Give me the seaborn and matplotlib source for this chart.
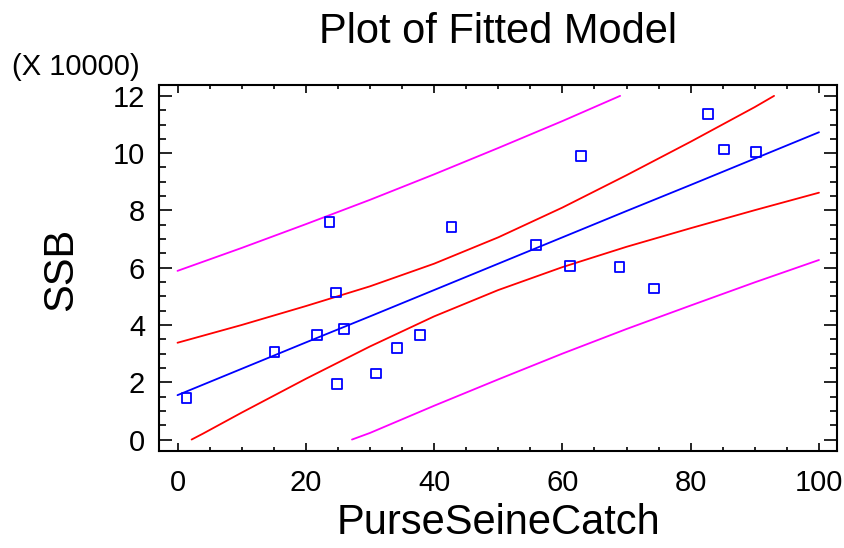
import matplotlib
matplotlib.use("Agg")
import matplotlib.pyplot as plt
import seaborn as sns
from matplotlib.ticker import MultipleLocator

# observed points (SSB in units of 10000)
catch = [1.4, 15.1, 21.7, 23.7, 24.7, 26.0, 24.9, 30.9, 34.2, 37.8, 42.7,
         55.9, 62.9, 61.2, 68.9, 74.3, 82.7, 85.2, 90.2]
ssb = [1.46, 3.05, 3.66, 7.59, 5.13, 3.85, 1.94, 2.30, 3.19, 3.64, 7.42,
       6.80, 9.91, 6.07, 6.03, 5.27, 11.37, 10.13, 10.04]

# fitted line and bands
fit_x = [0, 10, 20, 30, 40, 50, 60, 70, 80, 90, 100]
fit_y = [1.55, 2.47, 3.39, 4.30, 5.22, 6.14, 7.06, 7.98, 8.89, 9.81, 10.73]

conf_hi_x = [0, 10, 20, 30, 40, 50, 60, 70, 80, 90, 93]
conf_hi_y = [3.38, 4.00, 4.66, 5.35, 6.14, 7.06, 8.10, 9.23, 10.40, 11.61, 12.0]
conf_lo_x = [2.2, 4, 10, 20, 30, 40, 50, 60, 70, 80, 90, 100]
conf_lo_y = [0.0, 0.21, 0.94, 2.12, 3.25, 4.30, 5.22, 6.02, 6.73, 7.38, 8.01, 8.62]

pred_hi_x = [0, 10, 20, 30, 40, 50, 60, 69]
pred_hi_y = [5.89, 6.69, 7.52, 8.37, 9.26, 10.18, 11.12, 12.0]
pred_lo_x = [27.2, 30, 40, 50, 60, 70, 80, 90, 100]
pred_lo_y = [0.0, 0.23, 1.18, 2.10, 3.00, 3.86, 4.68, 5.49, 6.27]

sns.set_style("ticks")
plt.rcParams["font.family"] = ["Liberation Sans", "DejaVu Sans"]
plt.rcParams["text.color"] = "black"
plt.rcParams["axes.labelcolor"] = "black"
plt.rcParams["xtick.color"] = "black"
plt.rcParams["ytick.color"] = "black"

fig = plt.figure(figsize=(8.45, 5.48), dpi=100)
ax = fig.add_axes([0.1882, 0.1770, 0.8024, 0.6679])

lw = 1.3
sns.lineplot(x=pred_hi_x, y=pred_hi_y, color="#ff00ff", lw=lw, sort=False, ax=ax)
sns.lineplot(x=pred_lo_x, y=pred_lo_y, color="#ff00ff", lw=lw, sort=False, ax=ax)
sns.lineplot(x=conf_hi_x, y=conf_hi_y, color="#ff0000", lw=lw, sort=False, ax=ax)
sns.lineplot(x=conf_lo_x, y=conf_lo_y, color="#ff0000", lw=lw, sort=False, ax=ax)
sns.lineplot(x=fit_x, y=fit_y, color="#0000ff", lw=lw, sort=False, ax=ax)
sns.scatterplot(x=catch, y=ssb, marker="s", s=48, facecolor="none",
                edgecolor="#0000ff", linewidth=1.3, zorder=3, ax=ax)

ax.set_xlim(-2.88, 102.82)
ax.set_ylim(-0.40, 12.38)

ax.xaxis.set_major_locator(MultipleLocator(20))
ax.xaxis.set_minor_locator(MultipleLocator(5))
ax.yaxis.set_major_locator(MultipleLocator(2))
ax.yaxis.set_minor_locator(MultipleLocator(0.5))

ax.tick_params(which="both", direction="in", top=True, right=True,
               width=1.2, color="black", labelcolor="black")
ax.tick_params(axis="x", which="major", length=5.5, pad=13, labelsize=21)
ax.tick_params(axis="x", which="minor", length=3)
ax.tick_params(axis="y", which="major", length=9.4, pad=10, labelsize=21)
ax.tick_params(axis="y", which="minor", length=5)

for sp in ax.spines.values():
    sp.set_linewidth(1.5)
    sp.set_color("black")

ax.set_title("Plot of Fitted Model", fontsize=30, pad=30, color="black")
ax.set_xlabel("PurseSeineCatch", fontsize=30)
ax.set_ylabel("SSB", fontsize=30)
ax.xaxis.set_label_coords(0.5, -0.142)
ax.yaxis.set_label_coords(-0.115, 0.497)

fig.text(12 / 845, 0.863, "(X 10000)", fontsize=21, ha="left", va="baseline")

fig.savefig("out.png", dpi=100)
